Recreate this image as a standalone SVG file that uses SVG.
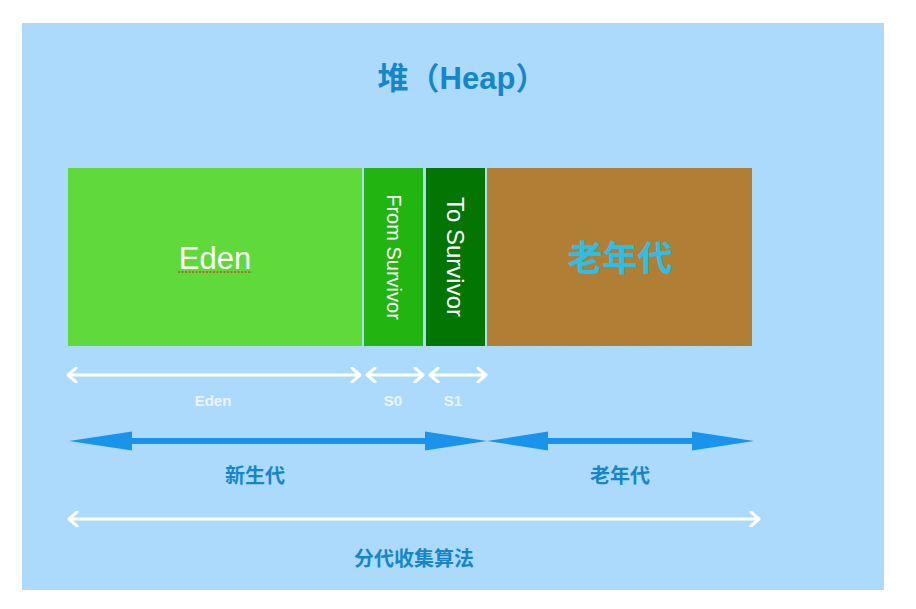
<svg xmlns="http://www.w3.org/2000/svg" width="916" height="609" viewBox="0 0 916 609">
  <defs>
    <style>
      .t { font-family: "Liberation Sans", "Noto Sans CJK SC", sans-serif; text-anchor: middle; }
      .blue { fill: #1686c9; font-weight: bold; }
      .wl { fill: #eaf5ff; font-weight: bold; font-size: 15px; }
      .wa { stroke: #ffffff; stroke-width: 3; fill: none; }
      .ba { fill: #1a93ec; }
    </style>
    <marker id="wh" viewBox="0 0 12 16" refX="10" refY="8" markerWidth="12" markerHeight="16" markerUnits="userSpaceOnUse" orient="auto-start-reverse">
      <path d="M2 1 L10 8 L2 15" fill="none" stroke="#ffffff" stroke-width="3" stroke-linecap="round" stroke-linejoin="round"/>
    </marker>
    <filter id="tex" x="0" y="0" width="1" height="1">
      <feTurbulence type="fractalNoise" baseFrequency="0.9" numOctaves="2" seed="3" result="n"/>
      <feColorMatrix in="n" type="matrix" values="0 0 0 0 0.4  0 0 0 0 0.25  0 0 0 0 0.05  0 0 0 0.5 0" result="c"/>
      <feComposite in="c" in2="SourceGraphic" operator="in" result="m"/>
      <feMerge><feMergeNode in="SourceGraphic"/><feMergeNode in="m"/></feMerge>
    </filter>
  </defs>
  <rect x="0" y="0" width="916" height="609" fill="#ffffff"/>
  <rect x="22" y="23" width="862" height="567" fill="#acdafc"/>

  <g id="title">
    <text class="t blue" x="462" y="89" font-size="31">堆（Heap）</text>
  </g>

  <g id="eden">
    <rect x="68" y="168" width="294" height="178" fill="#60d93a"/>
    <text class="t" x="215" y="269" font-size="31" fill="#ffffff">Eden</text>
    <line x1="178" y1="272" x2="252" y2="272" stroke="#c0502a" stroke-width="1.5" stroke-dasharray="2,1.5"/>
  </g>
  <g id="from-survivor">
    <rect x="364" y="168" width="59" height="178" fill="#22b411"/>
    <text class="t" transform="translate(387 257) rotate(90)" font-size="20" fill="#ffffff">From Survivor</text>
  </g>
  <g id="to-survivor">
    <rect x="426" y="168" width="59" height="178" fill="#027502"/>
    <text class="t" transform="translate(447 257) rotate(90)" font-size="24" fill="#ffffff">To Survivor</text>
  </g>
  <g id="old-gen">
    <rect x="487" y="168" width="265" height="178" fill="#b27c33" filter="url(#tex)"/>
    <text class="t" x="620" y="271" font-size="35" font-weight="bold" fill="#2ebde8">老年代</text>
  </g>

  <g id="connectors">
    <line class="wa" x1="68" y1="375" x2="360" y2="375" marker-start="url(#wh)" marker-end="url(#wh)"/>
    <line class="wa" x1="367" y1="375" x2="423" y2="375" marker-start="url(#wh)" marker-end="url(#wh)"/>
    <line class="wa" x1="430" y1="375" x2="486" y2="375" marker-start="url(#wh)" marker-end="url(#wh)"/>
    <path class="ba" d="M69 441 L132 431.5 L132 438 L425 438 L425 431.5 L487 441 L425 450.5 L425 444 L132 444 L132 450.5 Z"/>
    <path class="ba" d="M487 441 L548 431.5 L548 438 L692 438 L692 431.5 L754 441 L692 450.5 L692 444 L548 444 L548 450.5 Z"/>
    <line class="wa" x1="69" y1="519" x2="759" y2="519" marker-start="url(#wh)" marker-end="url(#wh)"/>
  </g>

  <g id="labels">
    <text class="t wl" x="213" y="406">Eden</text>
    <text class="t wl" x="393" y="406">S0</text>
    <text class="t wl" x="453" y="406">S1</text>
    <text class="t blue" x="255" y="483" font-size="20">新生代</text>
    <text class="t blue" x="620" y="483" font-size="20">老年代</text>
    <text class="t blue" x="414" y="566" font-size="20">分代收集算法</text>
  </g>
</svg>
